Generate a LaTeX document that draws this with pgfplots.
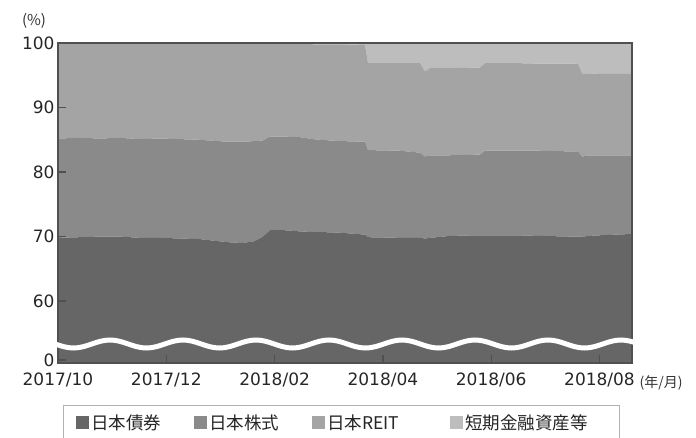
\documentclass[border=0pt]{standalone}
\usepackage{fontspec}
\setmainfont{DejaVu Sans}
\newfontfamily\jp{Noto Sans CJK JP}
\usepackage{pgfplots}
\usepackage{pgfplotstable}
\pgfplotsset{compat=1.18}
\definecolor{cbond}{HTML}{666666}
\definecolor{cstock}{HTML}{8A8A8A}
\definecolor{creit}{HTML}{A4A4A4}
\definecolor{cshort}{HTML}{BDBDBD}
\definecolor{axgray}{HTML}{505050}
\pgfplotsset{sqlegend/.style={legend image code/.code={\fill[##1,draw=none] (0pt,-6.5pt) rectangle (13pt,6.5pt);}}}

\pgfplotstableread{
m      bond  stock reit  short
0.000  69.8  15.4  14.8  0.0
0.406  69.9  15.4  14.7  0.0
0.776  70.0  15.2  14.8  0.0
1.145  70.0  15.3  14.7  0.0
1.514  69.8  15.3  14.9  0.0
1.884  69.8  15.4  14.8  0.0
2.253  69.7  15.4  14.9  0.0
2.622  69.6  15.4  15.0  0.0
2.936  69.3  15.5  15.2  0.0
3.176  69.1  15.6  15.3  0.0
3.416  69.0  15.7  15.3  0.0
3.638  69.3  15.5  15.2  0.0
3.786  70.0  14.9  15.1  0.0
3.915  71.0  14.5  14.5  0.0
4.155  71.0  14.5  14.5  0.0
4.469  70.8  14.6  14.6  0.0
4.709  70.7  14.4  14.7  0.2
4.838  70.7  14.3  14.8  0.2
5.208  70.6  14.2  15.0  0.2
5.670  70.3  14.4  15.0  0.3
5.725  69.9  13.5  13.5  3.1
6.316  69.8  13.5  13.6  3.1
6.685  69.8  13.2  13.9  3.1
6.777  69.7  12.7  13.2  4.4
6.870  69.8  12.8  13.5  3.9
7.239  70.1  12.5  13.5  3.9
7.793  70.2  12.5  13.5  3.8
7.886  70.2  13.1  13.6  3.1
8.347  70.2  13.1  13.6  3.1
8.901  70.1  13.2  13.5  3.2
9.455  70.0  13.2  13.6  3.2
9.603  70.0  13.2  13.6  3.2
9.677  70.0  12.4  12.9  4.7
9.825  70.1  12.5  12.7  4.7
10.009 70.2  12.4  12.6  4.8
10.600 70.4  12.2  12.6  4.8
}\data

\begin{document}
\begin{tikzpicture}[x=1pt,y=1pt]
\path[use as bounding box] (-58,-74) rectangle (638,363);
\begin{axis}[
  anchor=south west,
  scale only axis, width=574pt, height=320pt,
  xmin=0, xmax=10.6, ymin=50.4, ymax=100,
  stack plots=y, area style,
  xtick={0,2,4,6,8,10},
  xticklabels={2017/10,2017/12,2018/02,2018/04,2018/06,2018/08},
  ytick={50.85,60,70,80,90,100},
  yticklabels={0,60,70,80,90,100},
  tick align=inside, xtick pos=bottom, ytick pos=left,
  major tick length=8pt,
  tick style={color=axgray, line width=1.2pt},
  axis line style={color=axgray, line width=1.6pt},
  ticklabel style={font=\fontsize{17}{18}\selectfont, color=black!85},
  xticklabel style={yshift=-6pt},
  yticklabel style={xshift=0pt},
  /pgf/number format/assume math mode=true,
  axis on top,
  sqlegend,
  legend columns=4,
  legend style={at={(axis description cs:0.0087,-0.131)}, anchor=north west,
    draw=black!30, line width=0.8pt, inner xsep=13pt, inner ysep=7pt,
    font=\jp\fontsize{17.5}{19}\selectfont, text=black!85,
    /tikz/every even column/.append style={column sep=31pt}},
]
\addplot[fill=cbond, draw=none] table[x=m, y=bond] {\data} \closedcycle;
\addlegendentry{日本債券}
\addplot[fill=cstock, draw=none] table[x=m, y=stock] {\data} \closedcycle;
\addlegendentry{日本株式}
\addplot[fill=creit, draw=none] table[x=m, y=reit] {\data} \closedcycle;
\addlegendentry{日本REIT\rule{18pt}{0pt}}
\addplot[fill=cshort, draw=none] table[x=m, y=short] {\data} \closedcycle;
\addlegendentry{短期金融資産等\rule{16pt}{0pt}}
\end{axis}
\begin{scope}
\clip (-3,-4) rectangle (577,46);
\draw[white, line width=5pt] (-39.25,19) \foreach \i in {1,...,10} { sin ++(18.25,4) cos ++(18.25,-4) sin ++(18.25,-4) cos ++(18.25,4) };
\end{scope}
\node[font=\jp\fontsize{15}{16}\selectfont, text=black!80] at (-24,342) {(\%)};
\node[font=\jp\fontsize{14}{15}\selectfont, text=black!80, anchor=west] at (578,-20) {(年/月)};
\end{tikzpicture}
\end{document}
